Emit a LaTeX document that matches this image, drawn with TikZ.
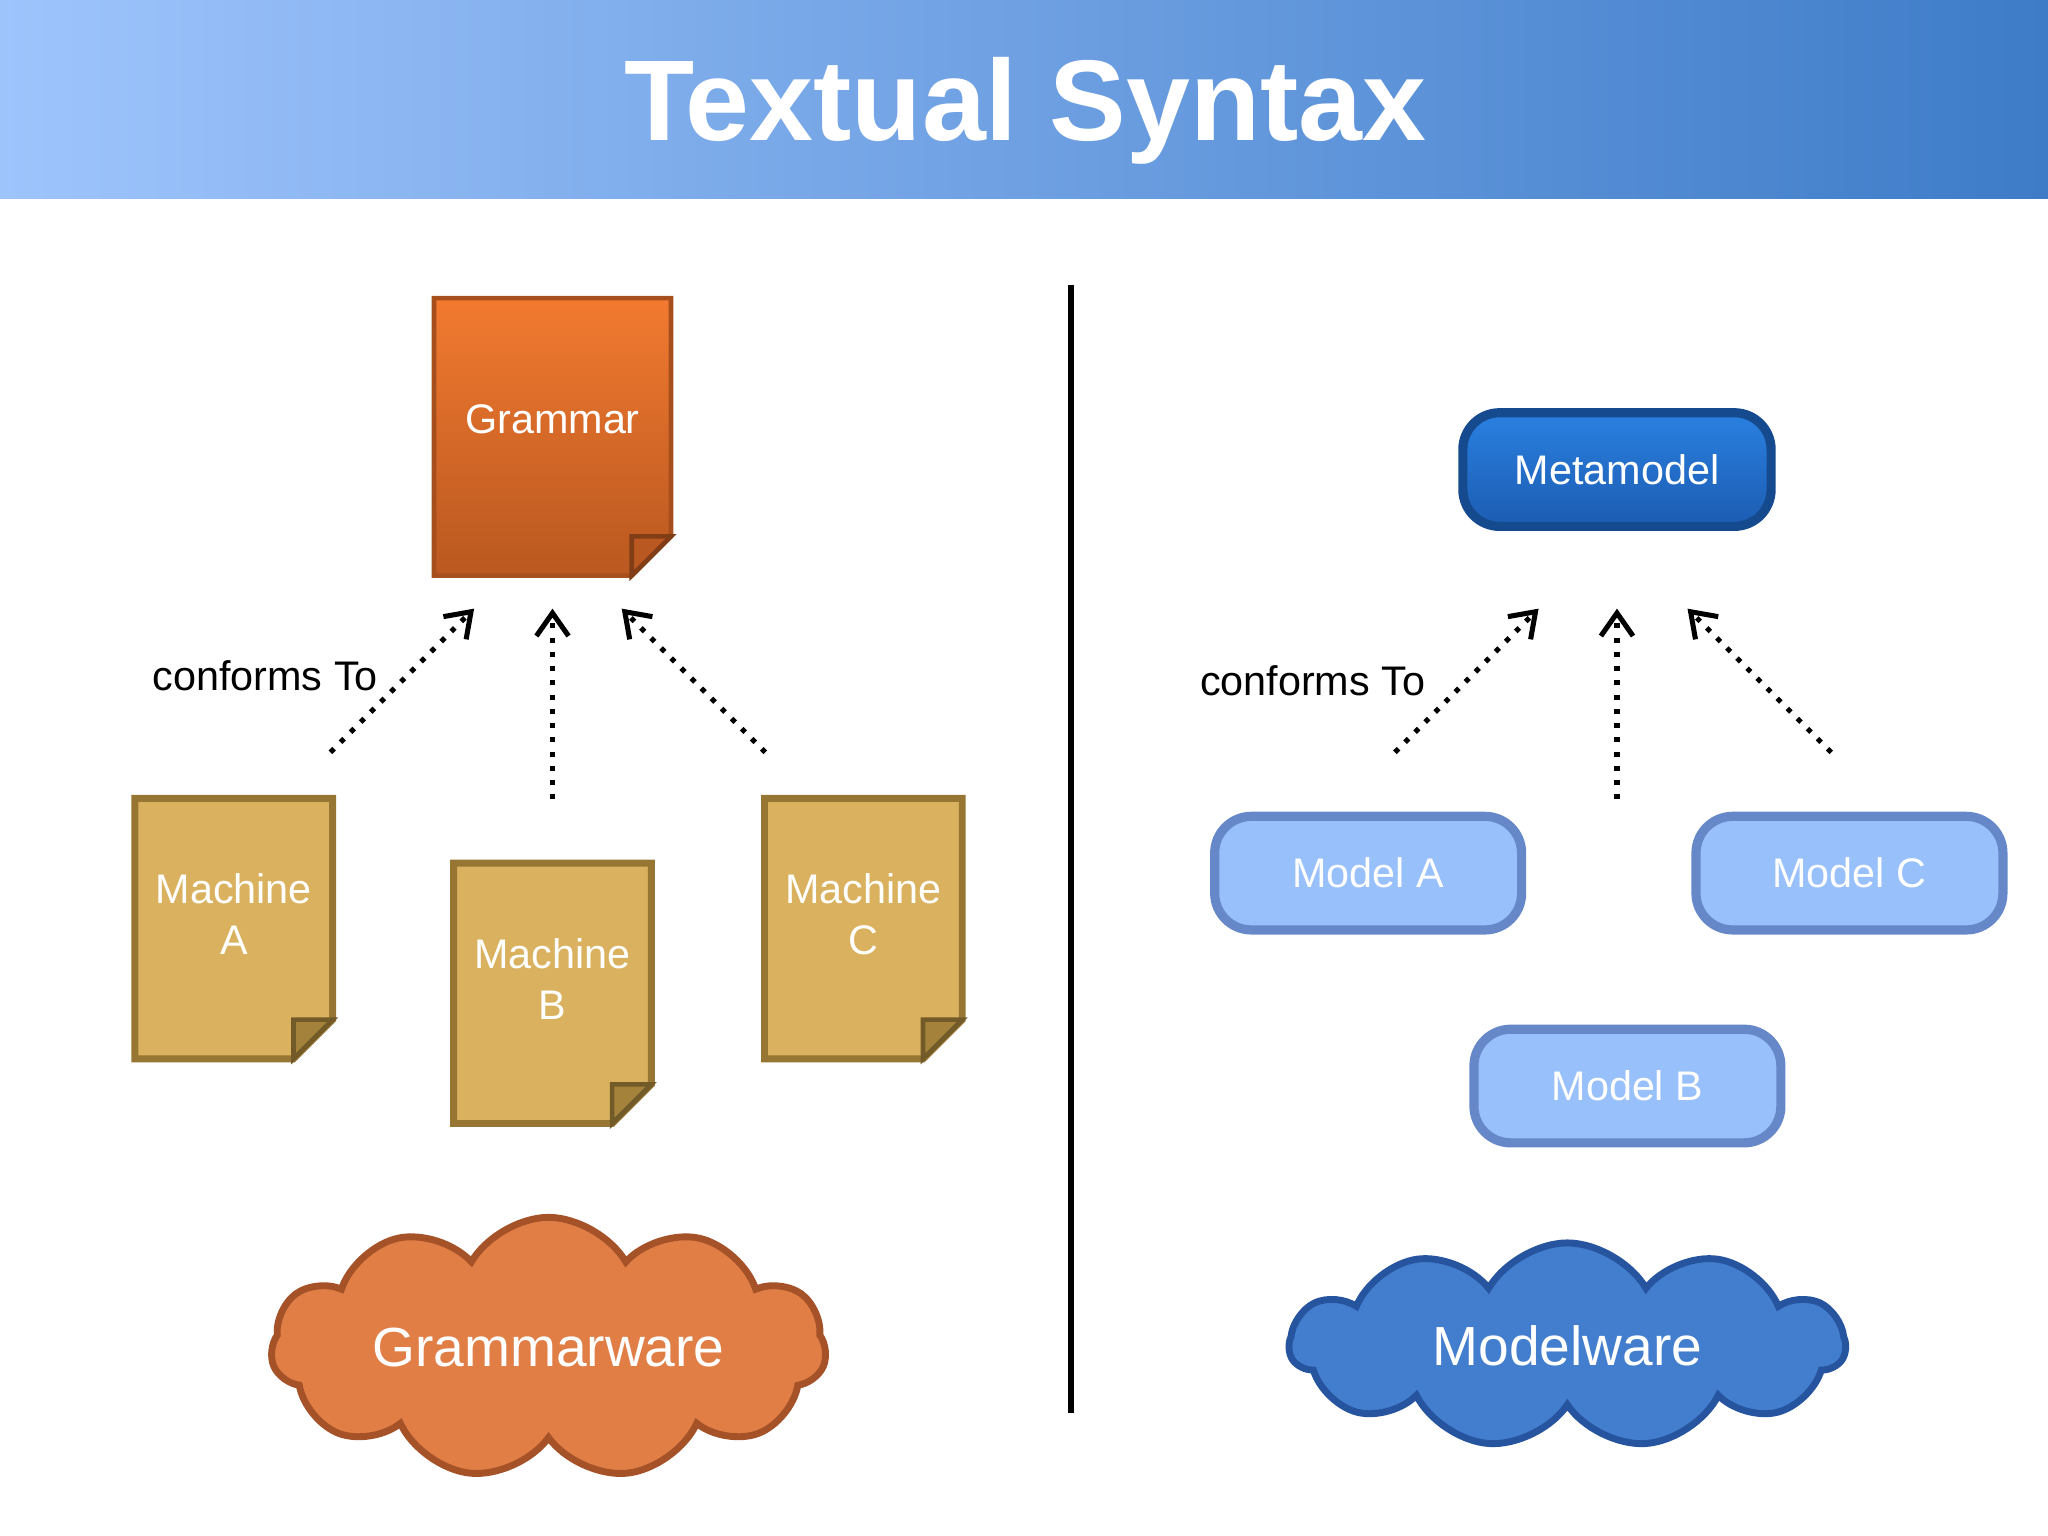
\documentclass[tikz,border=0pt]{standalone}
\usepackage{fontspec}
\setmainfont{Liberation Sans}
\usetikzlibrary{shapes.symbols,arrows.meta}
\definecolor{headL}{RGB}{158,196,252}
\definecolor{headR}{RGB}{62,124,200}
\definecolor{gramT}{RGB}{242,122,48}
\definecolor{gramB}{RGB}{185,88,32}
\definecolor{machFill}{RGB}{218,178,95}
\definecolor{machLine}{RGB}{150,118,50}
\definecolor{metaT}{RGB}{42,128,224}
\definecolor{metaB}{RGB}{28,92,178}
\definecolor{modFill}{RGB}{152,192,250}
\definecolor{modLine}{RGB}{102,136,200}
\definecolor{gwFill}{RGB}{224,126,70}
\definecolor{gwLine}{RGB}{165,82,40}
\definecolor{mwFill}{RGB}{66,126,205}
\definecolor{mwLine}{RGB}{38,84,158}
% folded document drawn around a named node
\newcommand{\docfold}[3]{%
  \path[#2] (#1.north west) -- (#1.north east) -- ([yshift=0.3cm]#1.south east)
    -- ([xshift=-0.3cm]#1.south east) -- (#1.south west) -- cycle;
  \path[fill=#3,draw=#3!70!black,line width=1pt] ([yshift=0.3cm]#1.south east)
    -- ([xshift=-0.3cm,yshift=0.3cm]#1.south east) -- ([xshift=-0.3cm]#1.south east) -- cycle;}
\begin{document}
\begin{tikzpicture}[x=0.01cm,y=-0.01cm,
docnode/.style={rectangle, minimum width=150*0.01cm, minimum height=198*0.01cm},
doclabel/.style={align=center, text=white, font=\fontsize{9}{11}\selectfont},
modelnode/.style={rectangle, rounded corners=8pt, draw=modLine, line width=2pt, fill=modFill, minimum width=235*0.01cm, minimum height=87*0.01cm, text=white, font=\fontsize{9}{11}\selectfont},
cloudnode/.style={cloud, cloud puffs=11, cloud puff arc=120, aspect=3, minimum width=425*0.01cm, minimum height=140*0.01cm, line width=1.5pt, text=white, font=\fontsize{12}{14}\selectfont},
to/.style={-{Straight Barb[length=5pt,width=7pt]}, dotted, line width=1.1pt},
]
\useasboundingbox (0,0) rectangle (1568,1176);
%header
\shade[left color=headL, right color=headR] (0,0) rectangle (1568,152);
\node[text=white, font=\fontsize{25}{30}\selectfont\bfseries] (title) at (785,85) {Textual Syntax};
\draw[line width=1.5pt] (820,218) -- (820,1082);
%grammarware side
\node[docnode, minimum width=180*0.01cm, minimum height=211*0.01cm] (grammar) at (423,334.5) {};
\docfold{grammar}{top color=gramT, bottom color=gramB, draw=gramB!90!black, line width=1pt}{gramB}
\node[doclabel] at ([yshift=0.135cm]grammar.center) {Grammar};
\node[docnode] (machA) at (179,711) {};
\node[docnode] (machB) at (423,760.5) {};
\node[docnode] (machC) at (661,711) {};
\foreach \m/\l in {machA/A, machB/B, machC/C}{
  \docfold{\m}{fill=machFill, draw=machLine, line width=1.5pt}{machLine!80!machFill}
  \node[doclabel] at ([yshift=0.11cm]\m.center) {Machine\\\l};
}
\coordinate (gA) at (253,576); \coordinate (gB) at (423,612); \coordinate (gC) at (586,576);
\coordinate (gtA) at (363,466); \coordinate (gtB) at (423,466); \coordinate (gtC) at (476,466);
\draw[to] (gA) -- (gtA);
\draw[to] (gB) -- (gtB);
\draw[to] (gC) -- (gtC);
\node[font=\fontsize{9}{11}\selectfont] (confL) at (203,517) {conforms To};
\node[cloudnode, fill=gwFill, draw=gwLine] (gware) at (420,1032) {Grammarware};
%modelware side
\node[modelnode, draw=metaB!80!black, top color=metaT, bottom color=metaB, minimum width=236*0.01cm] (meta) at (1238,359.5) {Metamodel};
\node[modelnode] (modA) at (1047.5,668.5) {Model A};
\node[modelnode] (modC) at (1416,668.5) {Model C};
\node[modelnode] (modB) at (1246,831.5) {Model B};
\coordinate (mA) at (1068,576); \coordinate (mB) at (1238,612); \coordinate (mC) at (1402,576);
\coordinate (mtA) at (1178,466); \coordinate (mtB) at (1238,466); \coordinate (mtC) at (1292,466);
\draw[to] (mA) -- (mtA);
\draw[to] (mB) -- (mtB);
\draw[to] (mC) -- (mtC);
\node[font=\fontsize{9}{11}\selectfont] (confR) at (1005,521) {conforms To};
\node[cloudnode, fill=mwFill, draw=mwLine] (mware) at (1200,1030) {Modelware};
\end{tikzpicture}
\end{document}
